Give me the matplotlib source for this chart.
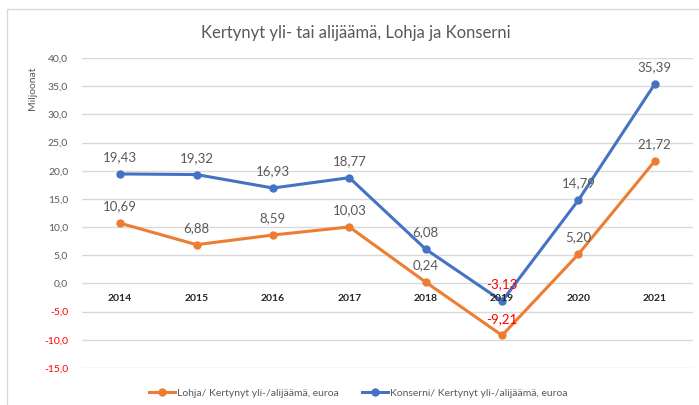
import matplotlib.pyplot as plt
import numpy as np
from matplotlib.patches import Rectangle

plt.rcParams['font.family'] = ['Lato', 'DejaVu Sans']

years = ['2014', '2015', '2016', '2017', '2018', '2019', '2020', '2021']
lohja = [10.69, 6.88, 8.59, 10.03, 0.24, -9.21, 5.20, 21.72]
konserni = [19.43, 19.32, 16.93, 18.77, 6.08, -3.13, 14.79, 35.39]
yticks = [-15, -10, -5, 0, 5, 10, 15, 20, 25, 30, 35, 40]

orange = '#ED7D31'
blue = '#4472C4'
grey = '#595959'

fig = plt.figure(figsize=(6.99, 4.05), dpi=100)
ax = fig.add_axes([82 / 699, 1 - 368 / 405, 611 / 699, 310 / 405])

# chart border
fig.patches.append(Rectangle((7 / 699, -0.1), 1.2, 1 - 9 / 405 + 0.1,
                             transform=fig.transFigure, fill=False,
                             edgecolor='#D9D9D9', linewidth=1))

x = np.arange(len(years))
ax.plot(x, lohja, 'o-', color=orange, linewidth=2.2, markersize=5,
        label='Lohja/ Kertynyt yli-/alijäämä, euroa', zorder=3)
ax.plot(x, konserni, 'o-', color=blue, linewidth=2.2, markersize=5,
        label='Konserni/ Kertynyt yli-/alijäämä, euroa', zorder=3)

def fmt(v):
    return f'{v:.2f}'.replace('.', ',')

for series in (lohja, konserni):
    for xi, v in zip(x, series):
        ax.annotate(fmt(v), (xi, v), textcoords='offset points', xytext=(0, 12),
                    ha='center', va='center', fontsize=9.5,
                    color='#FF0000' if v < 0 else '#595959', zorder=4)

ax.set_xlim(-0.5, len(years) - 0.5)
ax.set_ylim(-15, 40)
ax.set_yticks(yticks)
ax.set_yticklabels([f'{t:.1f}'.replace('.', ',') for t in yticks], fontsize=7.5)
for lbl, t in zip(ax.get_yticklabels(), yticks):
    lbl.set_color('#FF0000' if t < 0 else grey)
ax.tick_params(axis='y', length=0, pad=10)
ax.set_xticks([])
ax.grid(axis='y', color='#D9D9D9', linewidth=1)
ax.set_axisbelow(True)
for s in ax.spines.values():
    s.set_visible(False)

# year labels just below the zero line
for xi, y in zip(x, years):
    ax.annotate(y, (xi, 0), textcoords='offset points', xytext=(0, -11),
                ha='center', va='center', fontsize=7.5, fontweight='bold',
                color='#262626')

fig.text(356 / 699, 1 - 33 / 405, 'Kertynyt yli- tai alijäämä, Lohja ja Konserni',
         ha='center', va='center', fontsize=12, color=grey)
fig.text(33 / 699, 1 - 88 / 405, 'Miljoonat', rotation=90, ha='center',
         va='center', fontsize=7.5, color=grey)

leg = fig.legend(loc='center', bbox_to_anchor=(358 / 699, 1 - 393 / 405), ncol=2,
                 frameon=False, fontsize=7.5, handlelength=2.5, columnspacing=2.2,
                 handletextpad=0.2)
for t in leg.get_texts():
    t.set_color(grey)

plt.savefig('out.png', dpi=100)
